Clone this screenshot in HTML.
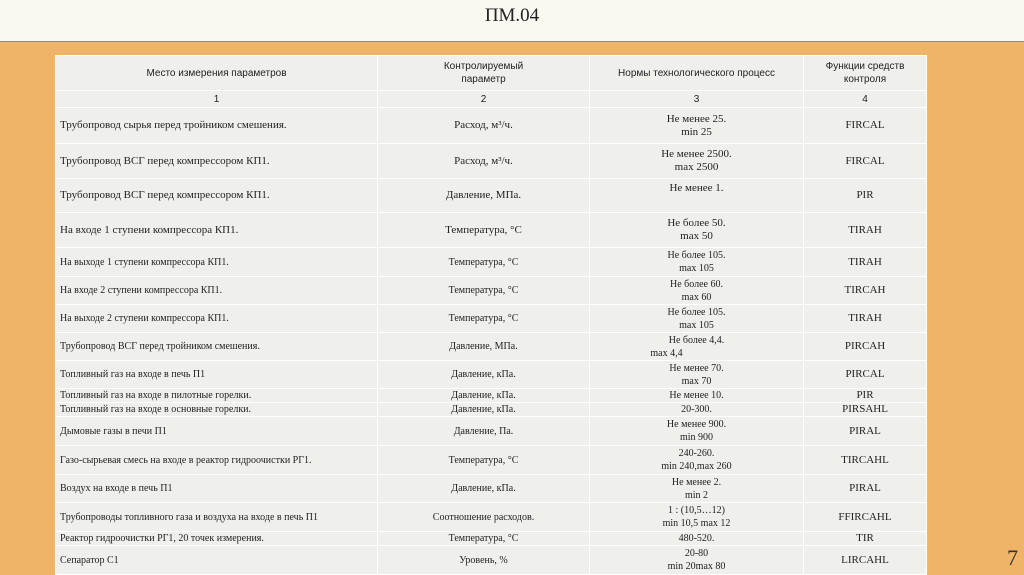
<!DOCTYPE html>
<html><head><meta charset="utf-8">
<style>
body{margin:0;width:1024px;height:574px;overflow:hidden;background:#F0B469;position:relative;font-family:"Liberation Serif",serif}
#top{position:absolute;left:0;top:0;width:1024px;height:41px;background:#FBF7F1;border-bottom:1px solid #8a8a7a}
#title{position:absolute;left:0;width:1024px;top:5px;text-align:center;font-size:19px;color:#222}
table{position:absolute;left:55px;top:55px;border-collapse:collapse;table-layout:fixed;width:871px}
td{background:#EFF0EC;border:1.5px solid #fff;font-size:11px;color:#222;padding:0 4px;line-height:13px;text-align:center}
td.l{text-align:left}
tr.h td{font-family:"Liberation Sans",sans-serif;font-size:10px;line-height:13px}
#pn{position:absolute;left:1007px;top:545px;font-size:22px;color:#333}
</style></head><body>
<div id="top"></div>
<div id="title">ПМ.04</div>
<table>
<colgroup><col style="width:322px"><col style="width:212px"><col style="width:214px"><col style="width:123px"></colgroup>
<tr class="h" style="height:35px"><td>Место измерения параметров</td><td>Контролируемый<br>параметр</td><td>Нормы технологического процесс</td><td>Функции средств<br>контроля</td></tr>
<tr class="h" style="height:17px"><td>1</td><td>2</td><td>3</td><td>4</td></tr>
<tr style="height:36px"><td class="l">Трубопровод сырья перед тройником смешения.</td><td>Расход, м³/ч.</td><td>Не менее 25.<br>min 25</td><td>FIRCAL</td></tr>
<tr style="height:35px"><td class="l">Трубопровод ВСГ перед компрессором КП1.</td><td>Расход, м³/ч.</td><td>Не менее 2500.<br>max 2500</td><td>FIRCAL</td></tr>
<tr style="height:34px"><td class="l">Трубопровод ВСГ перед компрессором КП1.</td><td>Давление, МПа.</td><td style="vertical-align:top;padding-top:3px">Не менее 1.</td><td>PIR</td></tr>
<tr style="height:35px"><td class="l">На входе 1 ступени компрессора КП1.</td><td>Температура, °С</td><td>Не более 50.<br>max 50</td><td>TIRAH</td></tr>
<tr style="height:29px"><td class="l" style="font-size:10px">На выходе 1 ступени компрессора КП1.</td><td style="font-size:10px">Температура, °С</td><td style="font-size:10px">Не более 105.<br>max 105</td><td>TIRAH</td></tr>
<tr style="height:28px"><td class="l" style="font-size:10px">На входе 2 ступени компрессора КП1.</td><td style="font-size:10px">Температура, °С</td><td style="font-size:10px">Не более 60.<br>max 60</td><td>TIRCAH</td></tr>
<tr style="height:28px"><td class="l" style="font-size:10px">На выходе 2 ступени компрессора КП1.</td><td style="font-size:10px">Температура, °С</td><td style="font-size:10px">Не более 105.<br>max 105</td><td>TIRAH</td></tr>
<tr style="height:28px"><td class="l" style="font-size:10px">Трубопровод ВСГ перед тройником смешения.</td><td style="font-size:10px">Давление, МПа.</td><td style="font-size:10px">Не более 4,4.<br><span style="margin-right:60px">max 4,4</span></td><td>PIRCAH</td></tr>
<tr style="height:28px"><td class="l" style="font-size:10px">Топливный газ на входе в печь П1</td><td style="font-size:10px">Давление, кПа.</td><td style="font-size:10px">Не менее 70.<br>max 70</td><td>PIRCAL</td></tr>
<tr style="height:13px"><td class="l" style="font-size:10px">Топливный газ на входе в пилотные горелки.</td><td style="font-size:10px">Давление, кПа.</td><td style="font-size:10px">Не менее 10.</td><td>PIR</td></tr>
<tr style="height:13px"><td class="l" style="font-size:10px">Топливный газ на входе в основные горелки.</td><td style="font-size:10px">Давление, кПа.</td><td style="font-size:10px">20-300.</td><td>PIRSAHL</td></tr>
<tr style="height:29px"><td class="l" style="font-size:10px">Дымовые газы в печи П1</td><td style="font-size:10px">Давление, Па.</td><td style="font-size:10px">Не менее 900.<br>min 900</td><td>PIRAL</td></tr>
<tr style="height:29px"><td class="l" style="font-size:10px">Газо-сырьевая смесь на входе в реактор гидроочистки РГ1.</td><td style="font-size:10px">Температура, °С</td><td style="font-size:10px">240-260.<br>min 240,max 260</td><td>TIRCAHL</td></tr>
<tr style="height:28px"><td class="l" style="font-size:10px">Воздух на входе в печь П1</td><td style="font-size:10px">Давление, кПа.</td><td style="font-size:10px">Не менее 2.<br>min 2</td><td>PIRAL</td></tr>
<tr style="height:29px"><td class="l" style="font-size:10px">Трубопроводы топливного газа и воздуха на входе в печь П1</td><td style="font-size:10px">Соотношение расходов.</td><td style="font-size:10px">1 : (10,5…12)<br>min 10,5 max 12</td><td>FFIRCAHL</td></tr>
<tr style="height:13px"><td class="l" style="font-size:10px">Реактор гидроочистки РГ1, 20 точек измерения.</td><td style="font-size:10px">Температура, °С</td><td style="font-size:10px">480-520.</td><td>TIR</td></tr>
<tr style="height:29px"><td class="l" style="font-size:10px">Сепаратор С1</td><td style="font-size:10px">Уровень, %</td><td style="font-size:10px">20-80<br>min 20max 80</td><td>LIRCAHL</td></tr>
</table>
<div id="pn">7</div>
</body></html>
